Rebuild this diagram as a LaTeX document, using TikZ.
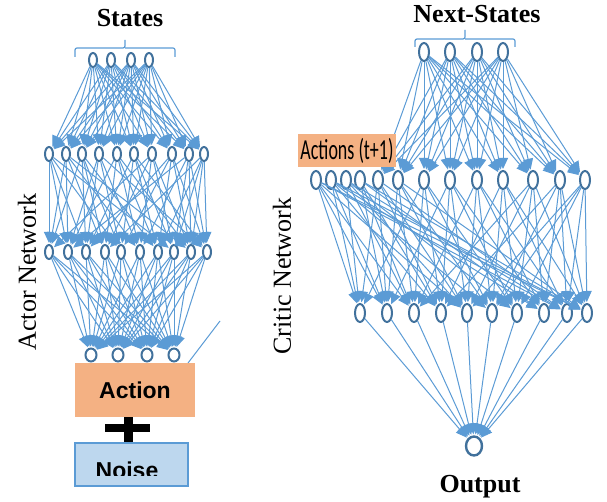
\documentclass[tikz,border=0pt]{standalone}
\usepackage{fontspec}
\setmainfont{Liberation Serif}
\setsansfont{Liberation Sans}
\newfontfamily\carl{Carlito}
\usetikzlibrary{arrows.meta,shapes.geometric}
\definecolor{lnblue}{HTML}{5B9BD5}
\definecolor{ndblue}{HTML}{41719C}
\definecolor{orng}{HTML}{F4B183}
\definecolor{ltblue}{HTML}{BDD7EE}
\tikzset{
  nd/.style={ellipse,draw=ndblue,line width=2pt,inner sep=0pt,minimum width=8pt,minimum height=14pt},
  ndr/.style={nd,minimum width=10pt,minimum height=18pt},
  ndc/.style={nd,minimum width=11pt,minimum height=13pt},
  ndo/.style={nd,minimum width=16pt,minimum height=19pt,line width=2.4pt},
  cn/.style={draw=lnblue,line width=1pt,-{Triangle[length=11pt,width=10pt]},shorten >=1pt},
  brk/.style={draw=lnblue,line width=1.2pt,rounded corners=2pt},
  ttl/.style={font=\bfseries\fontsize{26}{28}\selectfont},
  side/.style={font=\fontsize{26}{28}\selectfont,rotate=90},
  boxtxt/.style={font=\sffamily\bfseries\fontsize{23}{25}\selectfont}
}
\begin{document}
\begin{tikzpicture}[x=1pt,y=-1pt]
\useasboundingbox (0,0) rectangle (607,502);
% ---------- Actor network ----------
\node[ttl] (states) at (130,18) {States};
\draw[brk] (75,57) -- (75,48) -- (125,48) -- (125,40) (125,48) -- (175,48) -- (175,57);
\foreach \x [count=\i] in {93,111,131,149} \node[nd] (a0\i) at (\x,60) {};
\foreach \x [count=\i] in {49,66,82,99,117,134,152,172,189,204} \node[nd] (a1\i) at (\x,154) {};
\foreach \x [count=\i] in {49,68,86,105,121,140,158,174,191,207} \node[nd] (a2\i) at (\x,252) {};
\foreach \x [count=\i] in {91,118,147,174} \node[ndc] (a3\i) at (\x,355) {};
\foreach \i in {1,...,4} \foreach \j in {1,...,10} \draw[cn] (a0\i) -- (a1\j);
\foreach \i/\lst in {1/{1,2,3,5,8},2/{1,2,4,6,9},3/{1,3,4,5,7},4/{2,3,5,6,10},5/{2,4,6,7,9},
  6/{3,5,7,8,10},7/{1,4,6,8,9},8/{3,5,7,9,10},9/{2,6,8,9,10},10/{4,7,8,9,10}}
  \foreach \j in \lst \draw[cn] (a1\i) -- (a2\j);
\foreach \i in {1,...,10} \foreach \j in {1,...,4} \draw[cn] (a2\i) -- (a3\j);
\node[side] (actor) at (27,272) {Actor Network};
\coordinate (s1) at (188,363);
\coordinate (s2) at (220,321);
\draw[lnblue,line width=1pt] (s1) -- (s2);
\node[fill=orng,minimum width=120pt,minimum height=54pt,inner sep=0pt,boxtxt] (action) at (135,390) {Action};
\node[fill=ltblue,draw=lnblue,line width=2pt,minimum width=113pt,minimum height=43pt,inner sep=0pt] (noise) at (131,464) {};
\begin{scope}
\clip (74,440) rectangle (190,475);
\node[boxtxt,anchor=base] (noisetxt) at (127,478) {Noise};
\end{scope}
\fill[black] (105,424) rectangle (150,432);
\fill[black] (124,417) rectangle (133,442);
% ---------- Critic network ----------
\node[ttl] (nstates) at (477,14) {Next-States};
\draw[brk] (415,47) -- (415,39) -- (465,39) -- (465,30) (465,39) -- (515,39) -- (515,47);
\foreach \x [count=\i] in {424,450,477,503} \node[ndr] (c0\i) at (\x,52) {};
\foreach \x [count=\i] in {316,331,346,360,378,398,424,450,477,503,533,560,585} \node[ndr] (c1\i) at (\x,180) {};
\foreach \x [count=\i] in {360,387,414,441,467,492,517,544,567,587} \node[ndr] (c2\i) at (\x,313) {};
\node[ndo] (out) at (474,446) {};
\foreach \i in {1,...,4} \foreach \j in {5,...,13} \draw[cn] (c0\i) -- (c1\j);
\foreach \i/\lst in {1/{1,2,3,5,9,10},2/{1,2,4,6,8,10},3/{1,3,5,7,9},4/{2,3,4,8,10},5/{1,2,4,5,9},
  6/{2,3,5,6,10},7/{1,3,4,6,7},8/{2,4,5,7,8},9/{3,5,6,8,9},10/{4,6,7,9,10},11/{3,5,7,8,10},
  12/{4,6,8,9,10},13/{5,6,7,9,10}}
  \foreach \j in \lst \draw[cn] (c1\i) -- (c2\j);
\foreach \i in {1,...,10} \draw[cn] (c2\i) -- (out);
\node[fill=orng,minimum width=98pt,minimum height=33pt,inner sep=0pt] (acts) at (347,151)
  {\scalebox{0.62}[1]{\carl\fontsize{29}{30}\selectfont Actions (t+1)}};
\node[side] (critic) at (282,276) {Critic Network};
\node[ttl] (output) at (480,487) {Output};
\end{tikzpicture}
\end{document}
